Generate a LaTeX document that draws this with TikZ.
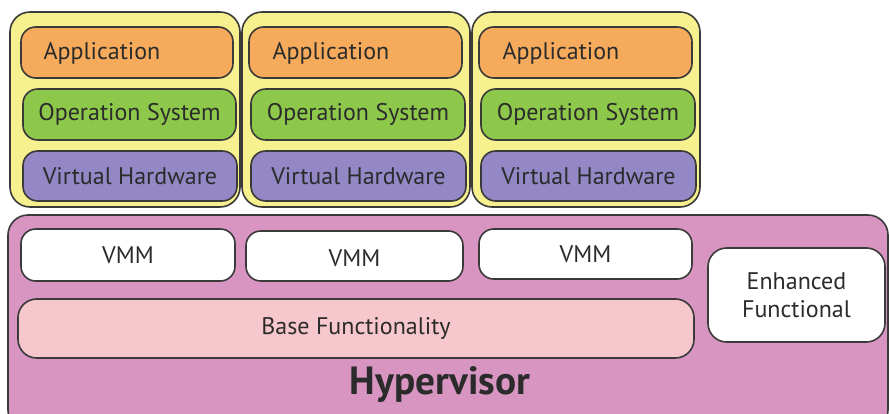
\documentclass[tikz,border=0pt]{standalone}
\usepackage{fontspec}
\setmainfont{PT Sans}
\usetikzlibrary{fit}

\definecolor{linec}{HTML}{3A3A3A}
\definecolor{txtc}{HTML}{2B2B2B}
\definecolor{vmyellow}{HTML}{F7F08E}
\definecolor{apporange}{HTML}{F6AA5B}
\definecolor{osgreen}{HTML}{8DC84A}
\definecolor{hwpurple}{HTML}{9487C5}
\definecolor{hypink}{HTML}{D995C2}
\definecolor{basepink}{HTML}{F6C7CC}

\tikzset{
  box/.style={draw=linec, line width=1.2pt, inner sep=0pt, rounded corners=11pt},
  outerbox/.style={draw=linec, line width=1.2pt, inner sep=0pt, rounded corners=15pt, fill=vmyellow},
  lbl/.style={text=txtc, font=\fontsize{18}{21}\selectfont},
}

\begin{document}
\begin{tikzpicture}[x=0.75pt, y=-0.75pt]
\useasboundingbox (0,0) rectangle (889,414);

% hypervisor frame
\node[box, rounded corners=15pt, fill=hypink, fit={(8,215) (888,430)}] (hyp) {};
\node[text=txtc, font=\bfseries\fontsize{29.5}{32}\selectfont] (hyptxt) at (440,385) {Hypervisor};

% virtual machine columns
\foreach \i/\ox/\oxr/\ax/\axr/\tx in {1/10/240/21/233/102, 2/242/470/249/462/331, 3/472/700/479/692/561}{
  \node[outerbox, fit={(\ox,12) (\oxr,207)}] (vm\i) {};
  \node[box, fill=apporange, fit={(\ax,27) (\axr,78)}] (app\i) {};
  \node[lbl] (apptxt\i) at (\tx,53) {Application};
  \node[box, fill=osgreen, fit={(\ax+2,89) (\axr+3,140)}, label={[lbl]center:Operation System}] (os\i) {};
  \node[box, fill=hwpurple, fit={(\ax+2,151) (\axr+4,201)}, label={[lbl]center:Virtual Hardware}] (hw\i) {};
}

% virtual machine monitors
\node[box, fill=white, fit={(21,229) (235,281)}, label={[lbl]center:VMM}] (vmm1) {};
\node[box, fill=white, fit={(246,231) (463,281)}, label={[lbl, yshift=-2pt]center:VMM}] (vmm2) {};
\node[box, fill=white, fit={(479,229) (692,279)}, label={[lbl]center:VMM}] (vmm3) {};

% base and enhanced functionality
\node[box, rounded corners=14pt, fill=basepink, fit={(18,299) (694,358)}, label={[lbl]center:Base Functionality}] (base) {};
\node[box, rounded corners=14pt, fill=white, fit={(708,248) (885,342)}] (enh) {};
\node[lbl, align=center] (enhtxt) at (enh.center) {Enhanced\\Functional};
\end{tikzpicture}
\end{document}
